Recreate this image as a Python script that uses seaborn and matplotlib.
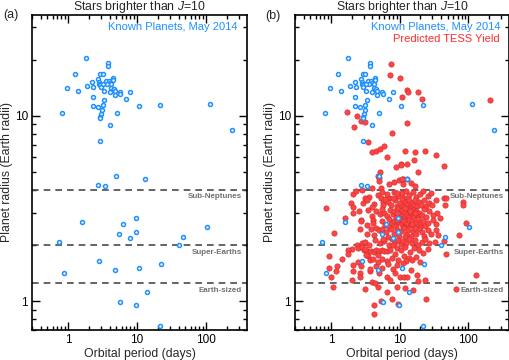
import matplotlib
matplotlib.use("Agg")
import matplotlib.pyplot as plt
import pandas as pd
import seaborn as sns
from matplotlib.ticker import LogLocator, NullFormatter, FixedLocator, FixedFormatter

# ---------------- data ----------------
known_planets = [
    (1.80, 20.5), (3.73, 19.2), (3.73, 18.6), (1.25, 16.9), (2.89, 16.9), (3.16, 16.9),
    (2.73, 15.85), (4.44, 16.0), (4.44, 15.6), (2.24, 15.3), (2.79, 15.3), (2.82, 14.9),
    (2.88, 14.6), (2.95, 14.3), (3.52, 15.5), (3.85, 15.5), (4.02, 15.1), (4.2, 14.9),
    (3.64, 14.9), (3.19, 14.8), (0.97, 14.2), (1.88, 14.5), (2.29, 14.4), (1.38, 13.65),
    (3.26, 13.7), (4.25, 14.05), (4.4, 13.8), (4.6, 13.9), (4.7, 13.7), (5.6, 13.5),
    (5.65, 13.2), (8.0, 13.4), (3.98, 13.5), (4.74, 12.9), (2.27, 12.7), (3.3, 12.2),
    (7.0, 12.3), (2.27, 11.3), (2.67, 11.1), (3.18, 11.4), (3.12, 10.7), (10.6, 11.3),
    (21.5, 11.5), (113, 11.6), (0.82, 10.4), (2.98, 10.2), (2.94, 9.9), (2.94, 9.7),
    (5.06, 10.3), (3.98, 8.9), (234, 8.43), (2.92, 7.35), (4.95, 4.75), (12.9, 4.57),
    (2.7, 4.24), (3.4, 4.2), (1.61, 2.67), (6.3, 2.61), (9.5, 2.8), (5.5, 2.31),
    (9.6, 2.35), (7.9, 2.2), (0.75, 2.08), (45.7, 2.23), (40.3, 2.0), (102, 2.5),
    (2.82, 1.64), (0.86, 1.42), (4.8, 1.48), (10.7, 1.52), (22.3, 1.58), (13.7, 1.12),
    (5.7, 0.99), (9.75, 0.95), (21.7, 0.74),
]

tess_large = [
    (7.6, 19.0), (7.3, 16.7), (10.1, 16.0), (13.0, 13.8), (13.3, 13.5), (18.6, 13.5),
    (10.9, 12.6), (20.8, 12.4), (208, 12.2), (1.7, 10.5), (2.4, 9.96), (2.78, 9.4),
    (3.14, 9.3), (2.18, 8.75), (13.0, 9.2), (7.75, 8.05), (3.47, 7.2), (3.97, 6.4),
    (4.5, 6.5), (5.2, 6.6), (5.9, 6.9), (6.5, 6.0), (12.1, 6.47), (17.0, 6.4),
    (23.5, 6.5), (33.9, 6.18), (16.3, 5.78), (10.3, 5.5), (10.5, 5.45), (12.7, 5.52),
    (8.7, 5.32), (18.6, 5.0), (43.8, 5.35), (5.1, 5.0), (4.9, 4.74), (5.0, 4.6),
    (11.2, 4.55), (12.8, 4.55), (5.0, 4.45), (6.9, 4.3), (8.2, 4.4), (9.8, 4.5),
    (11.0, 4.3), (14.5, 4.35), (17.0, 4.2), (10.7, 4.57), (3.9, 4.1), (5.3, 4.08),
    (2.85, 3.97),
]

tess_subneptune = [
    (2.1, 3.79), (2.3, 3.95), (3.6, 3.66), (4.85, 3.74), (5.6, 3.9), (8.2, 3.9),
    (9.5, 3.7), (10.8, 3.85), (12.5, 3.95), (13.8, 3.72), (15.5, 3.88), (17.2, 3.65),
    (19.5, 3.8), (22.0, 3.95), (25.5, 3.7), (29.0, 3.86), (44, 3.6), (47, 3.62),
    (83, 3.44), (3.1, 3.62), (7.0, 3.62), (11.5, 3.6), (6.5, 3.8), (9.0, 3.82),
    (0.84, 3.19), (1.93, 3.37), (2.06, 3.21), (2.94, 3.37), (3.4, 3.52), (4.24, 3.33),
    (5.3, 3.59), (5.7, 3.44), (5.8, 3.3), (6.8, 3.42), (7.5, 3.3), (8.6, 3.5),
    (9.2, 3.28), (10.1, 3.4), (10.7, 3.55), (11.3, 3.25), (12.0, 3.45), (12.9, 3.35),
    (13.6, 3.52), (14.2, 3.22), (15.1, 3.4), (16.0, 3.3), (16.8, 3.5), (17.9, 3.25),
    (19.0, 3.42), (20.5, 3.3), (22.5, 3.52), (24.0, 3.25), (26.5, 3.4), (30.0, 3.3),
    (34.0, 3.5), (45.0, 3.3), (83, 3.3), (3.9, 3.24), (8.0, 3.6), (6.2, 3.55),
    (2.1, 3.01), (1.6, 2.82), (3.47, 3.1), (4.6, 3.08), (5.1, 2.95), (6.0, 3.0),
    (6.6, 2.88), (7.2, 3.12), (7.9, 2.95), (8.4, 3.05), (8.9, 2.85), (9.4, 3.15),
    (9.9, 2.98), (10.4, 2.9), (10.9, 3.1), (11.5, 2.83), (12.1, 3.02), (12.6, 2.92),
    (13.2, 3.15), (13.9, 2.86), (14.6, 3.0), (15.4, 3.12), (16.2, 2.9), (17.1, 3.05),
    (18.2, 2.84), (19.3, 3.0), (20.8, 2.92), (22.4, 3.15), (24.5, 2.85), (27.0, 3.05),
    (35, 3.0), (31, 2.92), (4.0, 2.9), (2.6, 3.05), (38, 2.82), (5.5, 3.15),
    (11.8, 3.18), (9.0, 3.0), (14.0, 3.08), (16.6, 2.98),
    (2.78, 2.74), (2.7, 2.72), (4.06, 2.74), (4.06, 2.64), (5.5, 2.7), (6.1, 2.57),
    (6.9, 2.78), (7.6, 2.62), (8.3, 2.72), (8.9, 2.55), (9.6, 2.68), (10.2, 2.78),
    (10.8, 2.6), (11.4, 2.72), (12.2, 2.52), (12.9, 2.66), (13.7, 2.76), (14.5, 2.58),
    (15.3, 2.7), (16.4, 2.55), (17.5, 2.68), (18.8, 2.78), (20.1, 2.6), (21.7, 2.7),
    (23.5, 2.55), (26.0, 2.66), (31, 2.76), (34, 2.6), (93, 2.64), (3.3, 2.58),
    (7.1, 2.52), (11.0, 2.5), (15.0, 2.62), (19.5, 2.52), (9.2, 2.76),
    (1.09, 2.34), (2.66, 2.44), (3.8, 2.45), (4.5, 2.48), (5.0, 2.42), (5.5, 2.46),
    (6.3, 2.35), (7.5, 2.45), (8.2, 2.3), (9.0, 2.42), (9.7, 2.26), (10.5, 2.38),
    (11.4, 2.47), (12.3, 2.32), (13.2, 2.42), (14.4, 2.25), (15.7, 2.4), (17.1, 2.3),
    (18.9, 2.45), (20.8, 2.36), (22.8, 2.26), (25.5, 2.42), (28.5, 2.3), (33.6, 2.42),
    (36.3, 2.29), (73, 2.27), (4.2, 2.28), (6.8, 2.22), (3.3, 2.3), (12.0, 2.22),
    (16.5, 2.48),
    (2.4, 2.0), (2.8, 2.05), (3.1, 2.1), (3.6, 2.0), (4.4, 2.15), (5.2, 2.05),
    (6.0, 2.12), (6.9, 2.02), (7.8, 2.18), (8.6, 2.08), (9.4, 2.15), (10.3, 2.03),
    (11.3, 2.12), (12.5, 2.05), (13.8, 2.18), (15.2, 2.07), (16.9, 2.14), (18.8, 2.02),
    (21.0, 2.1), (23.5, 2.16), (27.0, 2.05), (33, 2.09), (43.7, 2.11), (5.8, 2.18),
    (8.0, 2.0),
]

tess_superearth = [
    (3.0, 1.88), (3.4, 1.86), (3.8, 1.87), (4.2, 1.85), (4.6, 1.88), (5.0, 1.86),
    (5.5, 1.89), (6.0, 1.87), (6.6, 1.86), (7.3, 1.88), (2.0, 1.91), (1.76, 1.9),
    (1.76, 1.8), (2.46, 1.95), (2.8, 1.96), (3.1, 1.92), (9.0, 1.95), (10.5, 1.9),
    (12.0, 1.96), (14.0, 1.85), (16.0, 1.93), (19.0, 1.88), (22, 1.82), (26, 1.92),
    (47.4, 1.81), (3.5, 1.76), (4.8, 1.78), (8.5, 1.8), (11.5, 1.75), (13.5, 1.72),
    (17.5, 1.74), (3.2, 1.77), (3.7, 1.66), (4.1, 1.7), (5.5, 1.7), (6.5, 1.65),
    (7.8, 1.72), (9.5, 1.68), (12.5, 1.64), (15.0, 1.68), (20.0, 1.62), (1.43, 1.69),
    (0.94, 1.76), (2.46, 1.63), (2.78, 1.55), (2.1, 1.57), (2.06, 1.46), (1.21, 1.55),
    (0.93, 1.52), (1.18, 1.46), (1.01, 1.35), (3.7, 1.45), (3.7, 1.5), (2.63, 1.42),
    (2.63, 1.35), (4.5, 1.55), (5.5, 1.52), (6.8, 1.58), (8.0, 1.5), (9.0, 1.56),
    (11.0, 1.6), (14.6, 1.47), (17.8, 1.38), (10.0, 1.35), (11.5, 1.36), (13.0, 1.35),
    (6.5, 1.35), (7.2, 1.3), (3.9, 1.27), (4.4, 1.25), (2.0, 1.3), (18.2, 1.28),
    (23, 1.31), (131, 1.39), (5.0, 1.42), (8.5, 1.42), (4.9, 1.62),
]

tess_earth = [
    (1.08, 1.19), (3.08, 1.16), (6.55, 1.12), (15.8, 1.15), (66, 1.16), (4.24, 0.95),
    (4.24, 0.85), (5.4, 1.0), (7.8, 1.03), (9.4, 0.97), (24.4, 1.03), (4.8, 1.2),
    (9.0, 1.2), (12, 1.18),
]

band_radii = [4.0, 2.0, 1.25]
band_labels = ["Sub-Neptunes", "Super-Earths", "Earth-sized"]
x_ticks = [1, 10, 100]
x_ticklabels = ["1", "10", "100"]
y_ticks = [1, 10]
y_ticklabels = ["1", "10"]

# ---------------- style ----------------
sns.set_style("ticks")
plt.rcParams["font.family"] = ["Liberation Sans", "DejaVu Sans"]
plt.rcParams["mathtext.fontset"] = "custom"
plt.rcParams["mathtext.it"] = "Liberation Sans:italic"
plt.rcParams["mathtext.rm"] = "Liberation Sans"

BLUE = "#1E90FF"
RED_FACE = "#FF4444"
RED_EDGE = "#D02828"

known_df = pd.DataFrame(known_planets, columns=["period", "radius"])
tess_df = pd.DataFrame(tess_large + tess_subneptune + tess_superearth + tess_earth,
                       columns=["period", "radius"])

fig = plt.figure(figsize=(5.10, 3.60), dpi=100)
W, H = 510, 360
ax_a = fig.add_axes([32 / W, 30 / H, 215 / W, 315 / H])
ax_b = fig.add_axes([295 / W, 30 / H, 214 / W, 315 / H])


def style_axis(ax):
    ax.set_xscale("log")
    ax.set_yscale("log")
    ax.set_xlim(0.3, 390)
    ax.set_ylim(0.7, 35)
    ax.xaxis.set_major_locator(FixedLocator(x_ticks))
    ax.xaxis.set_major_formatter(FixedFormatter(x_ticklabels))
    ax.yaxis.set_major_locator(FixedLocator(y_ticks))
    ax.yaxis.set_major_formatter(FixedFormatter(y_ticklabels))
    ax.xaxis.set_minor_locator(LogLocator(base=10, subs=range(2, 10)))
    ax.yaxis.set_minor_locator(LogLocator(base=10, subs=range(2, 10)))
    ax.xaxis.set_minor_formatter(NullFormatter())
    ax.yaxis.set_minor_formatter(NullFormatter())
    ax.tick_params(which="both", direction="in", top=True, right=True,
                   width=1.0, colors="black", labelsize=8.5, pad=3)
    ax.tick_params(which="major", length=6)
    ax.tick_params(which="minor", length=3)
    for s in ax.spines.values():
        s.set_linewidth(1.2)
        s.set_color("black")
    ax.set_xlabel("Orbital period (days)", fontsize=8.8, labelpad=1)
    ax.set_ylabel("Planet radius (Earth radii)", fontsize=8.8, labelpad=1)
    ax.set_title("Stars brighter than $\\it{J}$=10", fontsize=8.8, pad=3)
    for r, lab in zip(band_radii, band_labels):
        ax.axhline(r, color="#4a4a4a", lw=1.2, ls=(0, (4, 3)), zorder=1)
        ax.annotate(lab, xy=(0.977, r), xycoords=("axes fraction", "data"),
                    xytext=(0, -7), textcoords="offset pixels",
                    ha="right", va="center", fontsize=5.8, fontweight="bold",
                    color="#707070", zorder=4)


for ax in (ax_a, ax_b):
    style_axis(ax)

# panel (a)
sns.scatterplot(data=known_df, x="period", y="radius", ax=ax_a, s=8,
                facecolor="white", edgecolor=BLUE, linewidth=1.1, zorder=3,
                legend=False)
ax_a.text(0.958, 0.962, "Known Planets, May 2014", transform=ax_a.transAxes,
          ha="right", va="center", color=BLUE, fontsize=8)

# panel (b)
sns.scatterplot(data=tess_df, x="period", y="radius", ax=ax_b, s=15,
                color=RED_FACE, edgecolor=RED_EDGE, linewidth=0.4, zorder=2,
                legend=False)
sns.scatterplot(data=known_df, x="period", y="radius", ax=ax_b, s=8,
                facecolor="white", edgecolor=BLUE, linewidth=1.1, zorder=3,
                legend=False)
ax_b.text(0.958, 0.962, "Known Planets, May 2014", transform=ax_b.transAxes,
          ha="right", va="center", color=BLUE, fontsize=8)
ax_b.text(0.958, 0.925, "Predicted TESS Yield", transform=ax_b.transAxes,
          ha="right", va="center", color="#FF2A2A", fontsize=8)

fig.text(3 / W, 1 - 15 / H, "(a)", ha="left", va="center", fontsize=9)
fig.text(265 / W, 1 - 16 / H, "(b)", ha="left", va="center", fontsize=9)

fig.savefig("out.png", dpi=100)
